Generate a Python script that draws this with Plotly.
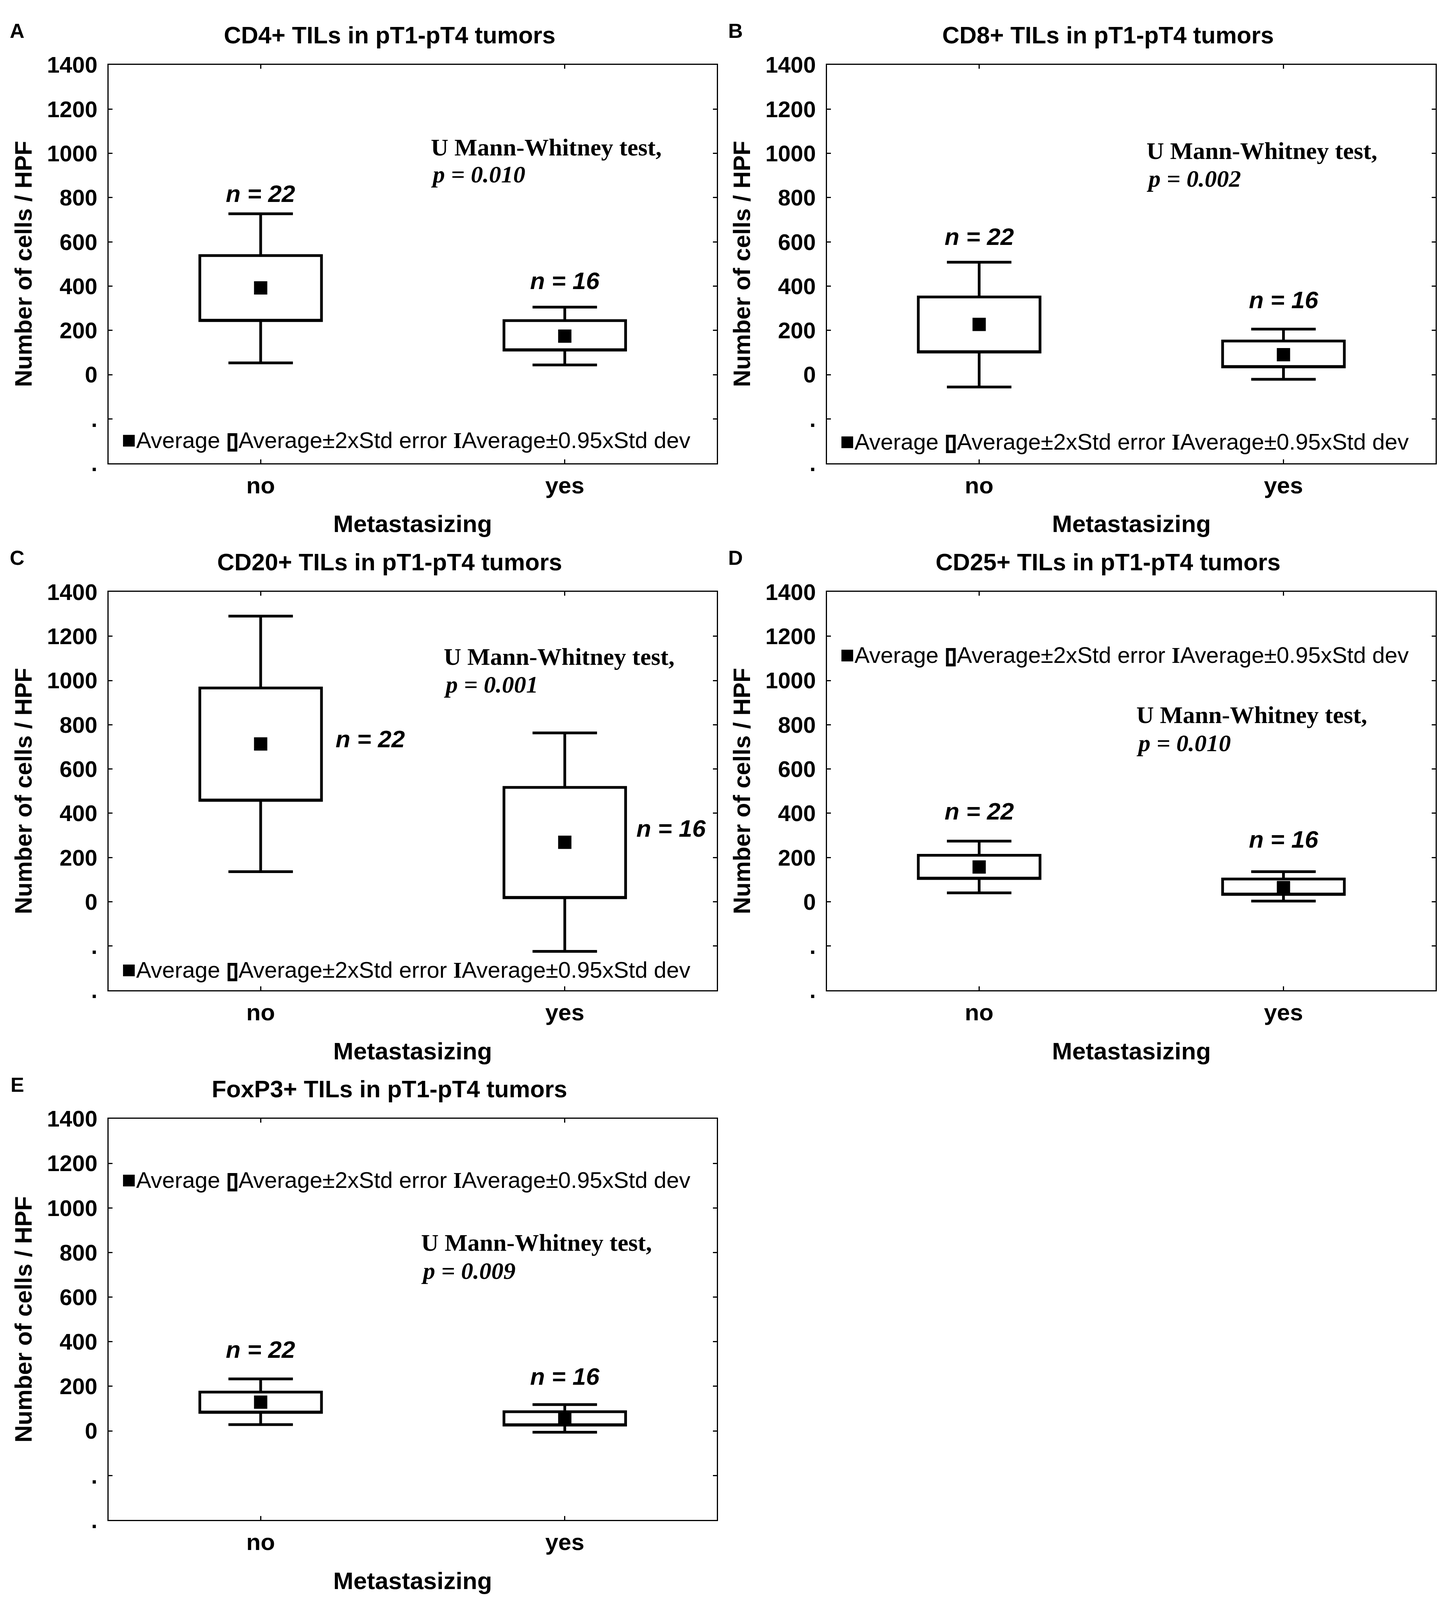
import plotly.graph_objects as go

# ---- data ---------------------------------------------------------------
panel_letters = ["A", "B", "C", "D", "E"]
markers = ["CD4+", "CD8+", "CD20+", "CD25+", "FoxP3+"]
categories = ["no", "yes"]
n_counts = [22, 16]
p_values = ["0.010", "0.002", "0.001", "0.010", "0.009"]

# per panel: [no, yes]
average = [[392, 174], [227, 90], [713, 269], [157, 64], [129, 57]]
se2_low = [[244, 111], [102, 35], [458, 18], [105, 33], [83, 26]]
se2_high = [[538, 244], [351, 152], [966, 517], [210, 103], [174, 86]]
sd_low = [[53, 44], [-56, -21], [136, -224], [40, 3], [28, -6]]
sd_high = [[727, 305], [508, 206], [1291, 763], [274, 136], [233, 118]]

y_tickvals = [-400, -200, 0, 200, 400, 600, 800, 1000, 1200, 1400]
y_ticktext = [".", ".", "0", "200", "400", "600", "800", "1000", "1200", "1400"]

# ---- layout helpers -------------------------------------------------------
W, H = 3699, 4130
OFF = 8  # page body margin


def xdom(left, right):
    return [(left - OFF) / W, (right - OFF) / W]


def ydom(top, bottom):
    return [1 - (bottom - OFF) / H, 1 - (top - OFF) / H]


col_x = [xdom(278, 1835), xdom(2117, 3675)]
row_y = [ydom(135, 1171), ydom(1506, 2542), ydom(2876, 3920)]

# annotation placement (data coords) per panel
n_pos = [
    [(0, 818), (1, 424)],
    [(0, 625), (1, 338)],
    [(0.36, 736), (1.35, 332)],
    [(0, 409), (1, 282)],
    [(0, 365), (1, 245)],
]
mw_pos = [(0.557, 1027, 905), (0.547, 1011, 887), (0.60, 1107, 982),
          (0.514, 845, 718), (0.525, 845, 718)]
legend_y = [-294, -300, -305, 1118, 1128]

SANS = "Liberation Sans"
SERIF = "Liberation Serif"

fig = go.Figure()
annotations = []

legend_text = (
    '<span style="font-size:62px">■</span>Average '
    '<span style="font-family:DejaVu Sans;font-size:56px;stroke:black;stroke-width:4px">▯</span>'
    'Average±2xStd error '
    '<span style="font-family:Liberation Serif;font-weight:bold;font-size:56px">I</span>'
    'Average±0.95xStd dev'
)

for k in range(5):
    ax = "" if k == 0 else str(k + 1)
    xr, yr = "x" + ax, "y" + ax
    r, c = k // 2, k % 2

    fig.add_trace(go.Box(
        x=[0, 1],
        q1=se2_low[k], median=se2_low[k], q3=se2_high[k],
        lowerfence=sd_low[k], upperfence=sd_high[k],
        width=0.4, whiskerwidth=0.53,
        fillcolor="white", line=dict(color="black", width=7),
        boxpoints=False, hoverinfo="skip",
        xaxis=xr, yaxis=yr, showlegend=False,
    ))
    fig.add_trace(go.Scatter(
        x=[0, 1], y=average[k], mode="markers",
        marker=dict(symbol="square", size=34, color="black"),
        xaxis=xr, yaxis=yr, showlegend=False, hoverinfo="skip",
    ))

    axis_common = dict(
        showline=True, linecolor="black", linewidth=3, mirror="ticks",
        ticks="inside", ticklen=10, tickwidth=3, tickcolor="black",
        showgrid=False, zeroline=False,
    )
    fig.layout["xaxis" + ax] = dict(
        axis_common, domain=col_x[c], anchor=yr, range=[-0.5, 1.5],
        tickvals=[0, 1], ticktext=categories, ticklabelstandoff=2,
        tickfont=dict(family=SANS, size=60, color="black", weight="bold"),
    )
    fig.layout["yaxis" + ax] = dict(
        axis_common, domain=row_y[r], anchor=xr, range=[-400, 1400],
        tickvals=y_tickvals, ticktext=y_ticktext, ticklabelstandoff=14,
        tickfont=dict(family=SANS, size=58, color="black", weight="bold"),
    )

    dx, dy = xr + " domain", yr + " domain"
    # panel letter
    annotations.append(dict(
        text=panel_letters[k], xref=dx, yref=dy, x=0, y=1,
        xshift=-234, yshift=87, xanchor="center", yanchor="middle",
        showarrow=False,
        font=dict(family=SANS, size=52, color="black", weight="bold"),
    ))
    # title
    annotations.append(dict(
        text=f"{markers[k]} TILs in pT1-pT4 tumors", xref=dx, yref=dy,
        x=0.462, y=1, yshift=76, xanchor="center", yanchor="middle",
        showarrow=False,
        font=dict(family=SANS, size=61, color="black", weight="bold"),
    ))
    # axis titles
    annotations.append(dict(
        text="Number of cells / HPF", xref=dx, yref=dy, x=0, y=0.5,
        xshift=-218, xanchor="center", yanchor="middle", textangle=-90,
        showarrow=False,
        font=dict(family=SANS, size=61, color="black", weight="bold"),
    ))
    annotations.append(dict(
        text="Metastasizing", xref=dx, yref=dy, x=0.5, y=0,
        yshift=-155, xanchor="center", yanchor="middle", showarrow=False,
        font=dict(family=SANS, size=62, color="black", weight="bold"),
    ))
    # n labels
    for j in range(2):
        nx, ny = n_pos[k][j]
        annotations.append(dict(
            text=f"<i>n = {n_counts[j]}</i>", xref=xr, yref=yr, x=nx, y=ny,
            showarrow=False,
            font=dict(family=SANS, size=62, color="black", weight="bold"),
        ))
    # Mann-Whitney text
    mx, my1, my2 = mw_pos[k]
    annotations.append(dict(
        text="U Mann-Whitney test,", xref=xr, yref=yr, x=mx, y=my1,
        xanchor="left", showarrow=False,
        font=dict(family=SERIF, size=62, color="black", weight="bold"),
    ))
    annotations.append(dict(
        text=f"<i>p = {p_values[k]}</i>", xref=xr, yref=yr, x=mx, y=my2,
        xanchor="left", showarrow=False,
        font=dict(family=SERIF, size=62, color="black", weight="bold"),
    ))
    # legend row
    annotations.append(dict(
        text=legend_text, xref=xr, yref=yr, x=-0.46, y=legend_y[k],
        xanchor="left", showarrow=False,
        font=dict(family=SANS, size=58, color="black"),
    ))

fig.update_layout(
    width=W, height=H,
    margin=dict(l=0, r=0, t=0, b=0),
    paper_bgcolor="white", plot_bgcolor="white",
    annotations=annotations,
    showlegend=False,
)

fig.write_html("out.html")
